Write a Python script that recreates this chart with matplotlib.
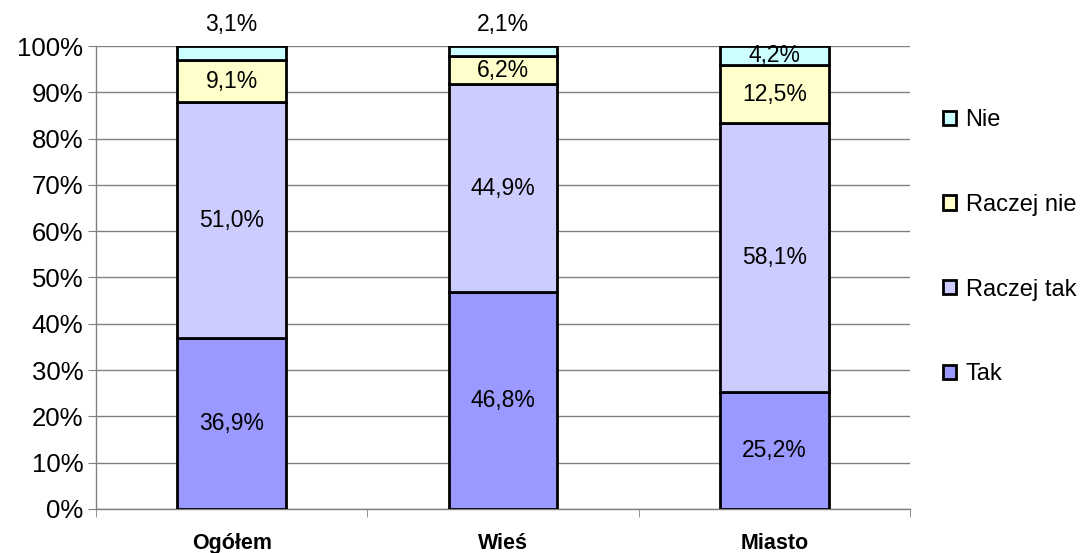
import numpy as np
import matplotlib.pyplot as plt
from matplotlib.patches import Patch

plt.rcParams['font.family'] = ['Liberation Sans', 'DejaVu Sans']

kategorie = ['Ogółem', 'Wieś', 'Miasto']
serie = ['Tak', 'Raczej tak', 'Raczej nie', 'Nie']
tak = [36.9, 46.8, 25.2]
raczej_tak = [51.0, 44.9, 58.1]
raczej_nie = [9.1, 6.2, 12.5]
nie = [3.1, 2.1, 4.2]
kolory = ['#9999FF', '#CCCCFF', '#FFFFCC', '#CCFFFF']

dane = np.array([tak, raczej_tak, raczej_nie, nie])
udzialy = dane / dane.sum(axis=0) * 100  # 100% skumulowane

fig = plt.figure(figsize=(10.81, 5.53), dpi=100)
ax = fig.add_axes([0.0888, 0.0796, 0.753, 0.8372])

x = np.arange(len(kategorie))
dol = np.zeros(len(kategorie))
for i, nazwa in enumerate(serie):
    ax.bar(x, udzialy[i], 0.40, bottom=dol, color=kolory[i], edgecolor='black',
           linewidth=2, label=nazwa, zorder=3)
    for j in range(len(kategorie)):
        tekst = f'{dane[i, j]:.1f}%'.replace('.', ',')
        yy = dol[j] + udzialy[i, j] / 2
        if nazwa == 'Nie' and j < 2:
            yy = 104.6  # etykieta nad słupkiem
        ax.text(x[j], yy, tekst, ha='center', va='center', fontsize=16.5,
                clip_on=False, zorder=5)
    dol += udzialy[i]

ax.set_xlim(-0.5, 2.5)
ax.set_ylim(0, 100)
ax.set_yticks(np.arange(0, 101, 10))
ax.set_yticklabels([f'{v}%' for v in range(0, 101, 10)], fontsize=18.5)
ax.set_xticks(x)
ax.set_xticklabels(kategorie, fontsize=15.5, fontweight='bold')
ax.set_xticks([-0.5, 0.5, 1.5, 2.5], minor=True)
ax.tick_params(axis='x', which='major', length=0, pad=17)
ax.tick_params(axis='x', which='minor', length=6, color='#808080', direction='out')
ax.tick_params(axis='y', length=6, color='#808080', direction='out', pad=3)
ax.grid(axis='y', color='#808080', linewidth=1, zorder=0)
for s in ['top', 'right']:
    ax.spines[s].set_visible(False)
for s in ['left', 'bottom']:
    ax.spines[s].set_color('#808080')
    ax.spines[s].set_linewidth(1)

uchwyty = [Patch(facecolor=kolory[i], edgecolor='black', linewidth=2, label=serie[i])
           for i in range(3, -1, -1)]
fig.legend(handles=uchwyty, loc='upper left', bbox_to_anchor=(0.8637, 0.82),
           frameon=False, fontsize=17, handlelength=0.55, handleheight=0.55,
           handletextpad=0.4, labelspacing=2.66, borderaxespad=0)

fig.savefig('out.png', dpi=100)
